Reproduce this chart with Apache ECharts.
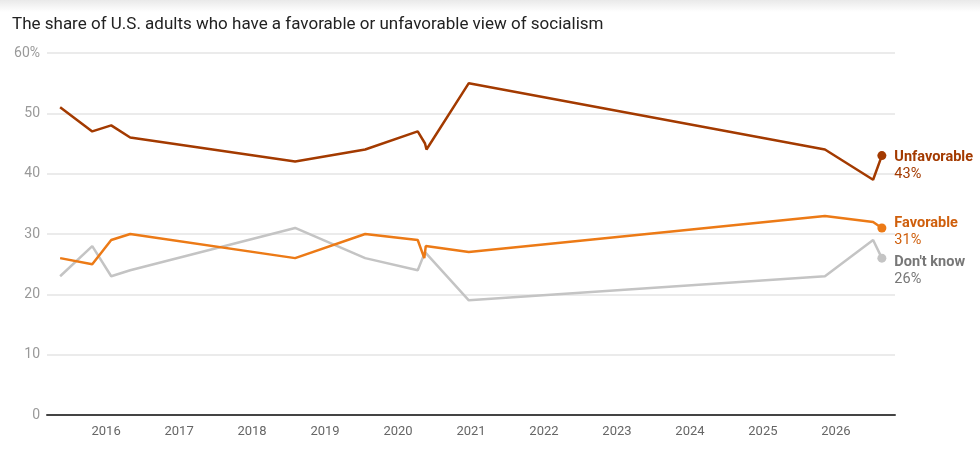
<!DOCTYPE html>
<html>
<head>
<meta charset="utf-8">
<script src="https://cdn.jsdelivr.net/npm/echarts@6/dist/echarts.min.js"></script>
<style>
  html, body { margin: 0; padding: 0; background: #fff; }
  #chart { width: 980px; height: 465px; }
</style>
</head>
<body>
<div id="chart"></div>
<script>
// survey dates as decimal years
const unfavDates = [2015.37, 2015.81, 2016.07, 2016.33, 2018.59, 2019.55, 2020.27, 2020.37, 2020.39, 2020.97, 2025.85, 2026.51, 2026.63];
const unfavorable = [51, 47, 48, 46, 42, 44, 47, 45, 44, 55, 44, 39, 43];

const favDates = [2015.37, 2015.81, 2016.07, 2016.33, 2018.59, 2019.55, 2020.27, 2020.36, 2020.38, 2020.97, 2025.85, 2026.51, 2026.63];
const favorable = [26, 25, 29, 30, 26, 30, 29, 26, 28, 27, 33, 32, 31];

const dkDates = [2015.37, 2015.81, 2016.07, 2016.33, 2018.59, 2019.55, 2020.27, 2020.37, 2020.97, 2025.85, 2026.51, 2026.63];
const dontKnow = [23, 28, 23, 24, 31, 26, 24, 27, 19, 23, 29, 26];

const yearTicks = [2016, 2017, 2018, 2019, 2020, 2021, 2022, 2023, 2024, 2025, 2026];

const chart = echarts.init(document.getElementById("chart"));

const buildData = (dates, values, name, color, offsetY) =>
  dates.map((d, i) => {
    const item = { value: [d, values[i]] };
    if (i === dates.length - 1) {
      item.symbolSize = 9;
      item.label = {
        show: true,
        position: "right",
        distance: 8,
        offset: [0, offsetY],
        align: "left",
        formatter: "{n|" + name + "}\n{v|" + values[i] + "%}",
        rich: {
          n: { fontFamily: "Roboto", fontSize: 14.5, fontWeight: "bold", color: color, lineHeight: 17 },
          v: { fontFamily: "Roboto", fontSize: 14.5, color: color, lineHeight: 17 },
        },
      };
    }
    return item;
  });

const lineSeries = (name, dates, values, lineColor, labelColor, offsetY) => ({
  name,
  type: "line",
  symbol: "circle",
  symbolSize: 0,
  showSymbol: true,
  silent: true,
  lineStyle: { color: lineColor, width: 2.5 },
  itemStyle: { color: lineColor },
  data: buildData(dates, values, name, labelColor, offsetY),
});

chart.setOption({
  animation: false,
  textStyle: { fontFamily: "Roboto" },
  graphic: [
    {
      type: "rect",
      left: 0,
      top: 0,
      shape: { width: 980, height: 12 },
      style: {
        fill: new echarts.graphic.LinearGradient(0, 0, 0, 1, [
          { offset: 0, color: "#e9e9e9" },
          { offset: 1, color: "#ffffff" },
        ]),
      },
    },
  ],
  title: {
    text: "The share of U.S. adults who have a favorable or unfavorable view of socialism",
    left: 7,
    top: 11,
    textStyle: { fontFamily: "Roboto", fontSize: 17, fontWeight: "normal", color: "#222" },
  },
  grid: { left: 47, right: 85, top: 53, bottom: 50 },
  xAxis: {
    type: "value",
    min: 2015.19,
    max: 2026.81,
    splitLine: { show: false },
    axisTick: { show: false },
    axisLine: { lineStyle: { color: "#444", width: 2 } },
    axisLabel: {
      customValues: yearTicks,
      color: "#666",
      fontSize: 13,
      margin: 10,
      formatter: (v) => String(v),
    },
  },
  yAxis: {
    type: "value",
    min: 0,
    max: 60,
    interval: 10,
    axisLine: { show: false },
    axisTick: { show: false },
    splitLine: { lineStyle: { color: "#e4e4e4", width: 1.5 } },
    axisLabel: {
      color: "#999",
      fontSize: 14,
      margin: 7,
      formatter: (v) => (v === 60 ? "60%" : String(v)),
    },
  },
  series: [
    lineSeries("Don't know", dkDates, dontKnow, "#c4c4c4", "#777777", 13),
    lineSeries("Favorable", favDates, favorable, "#ec7a16", "#cf5f0c", 4),
    lineSeries("Unfavorable", unfavDates, unfavorable, "#a33a00", "#a33a00", 10),
  ],
});
</script>
</body>
</html>
